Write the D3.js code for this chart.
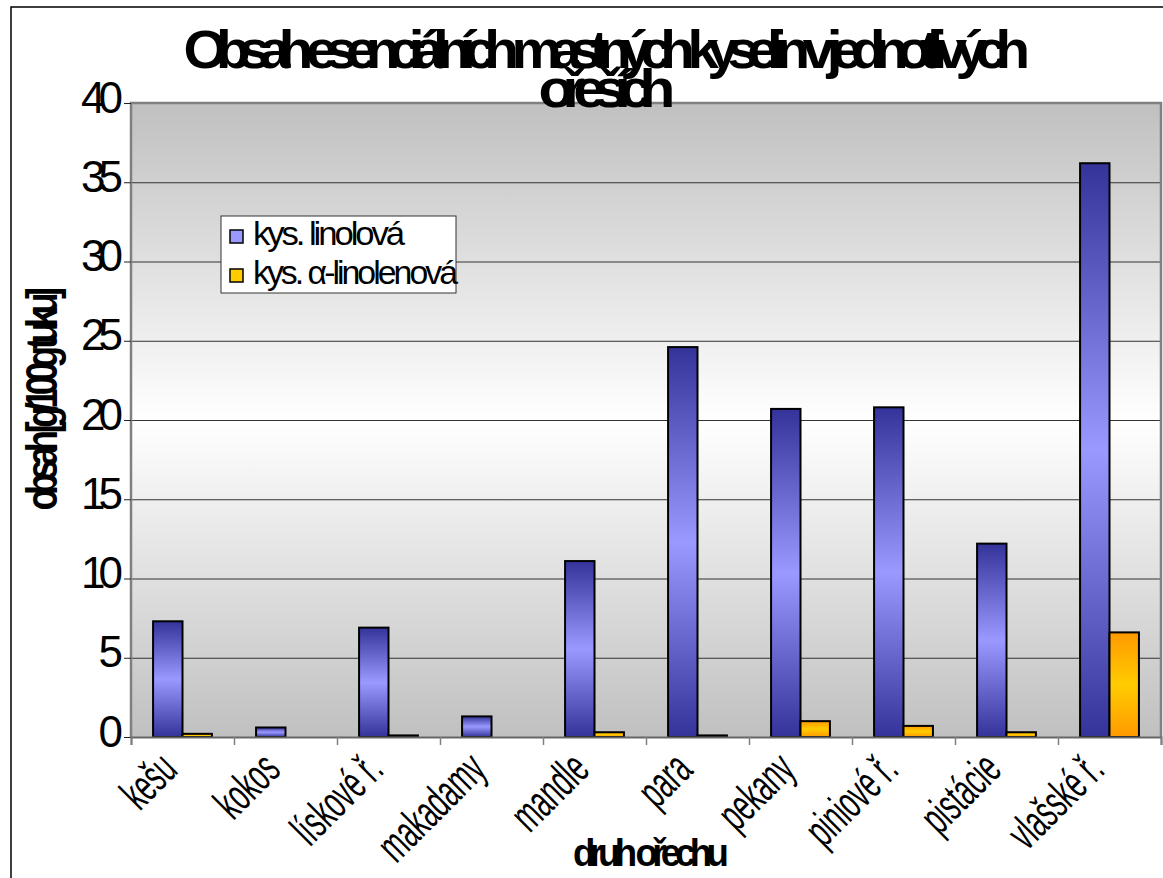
<!DOCTYPE html>
<html>
<head>
<meta charset="utf-8">
<script src="https://cdn.jsdelivr.net/npm/d3@7"></script>
<style>
  body { margin: 0; background: #fff; }
  text { font-family: "Liberation Sans", Arial, sans-serif; }
</style>
</head>
<body>
<script>
// rozměry
const width = 1163;
const height = 878;

// data
const categories = ["kešu", "kokos", "lískové ř.", "makadamy", "mandle", "para", "pekany", "piniové ř.", "pistácie", "vlašské ř."];
const seriesNames = ["kys. linolová", "kys. α-linolenová"];
const linolova = [7.3, 0.6, 6.9, 1.3, 11.1, 24.6, 20.7, 20.8, 12.2, 36.2];
const alfaLinolenova = [0.2, 0, 0.1, 0, 0.3, 0.1, 1.0, 0.7, 0.3, 6.6];
const yTicks = [0, 5, 10, 15, 20, 25, 30, 35, 40];
const titleLines = ["Obsah esenciálních mastných kyselin v jednotlivých", "ořeších"];
const yTitle = "obsah [g/100g tuku]";
const xTitle = "druh ořechu";

// plocha grafu
const plot = { left: 131, top: 103, right: 1161, bottom: 737 };
const plotWidth = plot.right - plot.left;
const plotHeight = plot.bottom - plot.top;

const svg = d3.select('body')
    .append('svg')
    .attr('width', width)
    .attr('height', height);

const defs = svg.append('defs');

function vGradient(id, stops) {
    const g = defs.append('linearGradient')
        .attr('id', id)
        .attr('x1', 0).attr('y1', 0)
        .attr('x2', 0).attr('y2', 1);
    stops.forEach(s => g.append('stop').attr('offset', s[0]).attr('stop-color', s[1]));
}
vGradient('bgGrad', [[0, '#c0c0c0'], [0.5, '#ffffff'], [1, '#c0c0c0']]);
vGradient('blueGrad', [[0, '#333399'], [0.5, '#9999ff'], [1, '#333399']]);
vGradient('orangeGrad', [[0, '#ff9900'], [0.5, '#ffcc00'], [1, '#ff9900']]);
const fills = ['url(#blueGrad)', 'url(#orangeGrad)'];
const swatchFills = ['#9999ff', '#ffcc00'];

// zúžení textu (písmo v originále je hodně stlačené)
function squeeze(sel, f) {
    sel.each(function () {
        const n = this.getComputedTextLength();
        d3.select(this)
            .attr('textLength', n * f)
            .attr('lengthAdjust', 'spacingAndGlyphs');
    });
}

// rámeček celého grafu
svg.append('rect')
    .attr('x', 11).attr('y', 7)
    .attr('width', width + 20).attr('height', height + 20)
    .attr('fill', 'none')
    .attr('stroke', '#000')
    .attr('stroke-width', 1.5);

// škály
const x0 = d3.scaleBand()
    .domain(categories)
    .range([0, plotWidth]);
const x1 = d3.scaleBand()
    .domain([0, 1])
    .range([0, x0.bandwidth()])
    .paddingInner(0)
    .paddingOuter(0.75);
const xIdx = d3.scaleLinear()
    .domain([0, categories.length])
    .range([0, plotWidth]);
const y = d3.scaleLinear()
    .domain([0, 40])
    .range([plotHeight, 0]);

const plotGroup = svg.append('g')
    .attr('transform', `translate(${plot.left},${plot.top})`);

// pozadí
plotGroup.append('rect')
    .attr('width', plotWidth)
    .attr('height', plotHeight)
    .attr('fill', 'url(#bgGrad)');

// mřížka
plotGroup.append('g')
    .call(d3.axisLeft(y).tickValues(yTicks.slice(1)).tickSize(-plotWidth).tickFormat(''))
    .call(g => g.select('.domain').remove())
    .call(g => g.selectAll('line').attr('stroke', '#333').attr('stroke-width', 1));

// okraj plochy
plotGroup.append('path')
    .attr('d', `M0,${plotHeight}V0H${plotWidth}V${plotHeight}`)
    .attr('fill', 'none')
    .attr('stroke', '#808080')
    .attr('stroke-width', 2.5);

// sloupce
const series = [linolova, alfaLinolenova];
const groups = plotGroup.append('g')
    .selectAll('g')
    .data(categories)
    .join('g')
    .attr('transform', d => `translate(${x0(d)},0)`);

groups.selectAll('rect')
    .data((c, i) => series.map((s, k) => ({ k: k, v: s[i] })).filter(d => d.v > 0))
    .join('rect')
    .attr('x', d => x1(d.k))
    .attr('width', x1.bandwidth())
    .attr('y', d => y(d.v))
    .attr('height', d => y(0) - y(d.v))
    .attr('fill', d => fills[d.k])
    .attr('stroke', '#000')
    .attr('stroke-width', 2);

// osa Y
plotGroup.append('g')
    .call(d3.axisLeft(y).tickValues(yTicks).tickSize(7).tickPadding(4))
    .call(g => g.select('.domain').remove())
    .call(g => g.selectAll('line').attr('stroke', '#222'))
    .call(g => g.selectAll('text')
        .attr('x', -15)
        .attr('dy', null)
        .attr('y', 9)
        .style('font-family', '"Liberation Sans", Arial, sans-serif')
        .style('font-size', '44px')
        .style('letter-spacing', '-7px')
        .attr('fill', '#000'));

// osa X - značky mezi kategoriemi
plotGroup.append('g')
    .attr('transform', `translate(0,${plotHeight})`)
    .call(d3.axisBottom(xIdx).tickValues(d3.range(categories.length + 1)).tickSize(8).tickFormat(''))
    .call(g => g.select('.domain').attr('stroke', '#666').attr('stroke-width', 2))
    .call(g => g.selectAll('line').attr('stroke', '#808080').attr('stroke-width', 1.5));

// popisky kategorií
plotGroup.append('g')
    .selectAll('text')
    .data(categories)
    .join('text')
    .attr('transform', d => `translate(${x0(d) + x0.bandwidth() / 2 - 3},${plotHeight + 35}) rotate(-45)`)
    .attr('text-anchor', 'end')
    .style('font-size', '46px')
    .text(d => d)
    .call(squeeze, 0.58);

// titulek
svg.append('g').selectAll('text')
    .data(titleLines)
    .join('text')
    .attr('x', 601)
    .attr('y', (d, i) => 68 + i * 39)
    .attr('text-anchor', 'middle')
    .style('font-weight', 'bold')
    .style('font-size', '54px')
    .style('letter-spacing', '-11px')
    .attr('textLength', (d, i) => i === 0 ? 835 : 125)
    .attr('lengthAdjust', 'spacingAndGlyphs')
    .text(d => d);

// názvy os
svg.append('text')
    .attr('transform', 'translate(57,402) rotate(-90)')
    .attr('text-anchor', 'middle')
    .style('font-weight', 'bold')
    .style('font-size', '44px')
    .style('letter-spacing', '-8px')
    .attr('textLength', 217)
    .attr('lengthAdjust', 'spacingAndGlyphs')
    .text(yTitle);

svg.append('text')
    .attr('x', 648)
    .attr('y', 866)
    .attr('text-anchor', 'middle')
    .style('font-weight', 'bold')
    .style('font-size', '38px')
    .style('letter-spacing', '-6px')
    .attr('textLength', 150)
    .attr('lengthAdjust', 'spacingAndGlyphs')
    .text(xTitle);

// legenda
const legend = svg.append('g')
    .attr('transform', 'translate(221,216)');
legend.append('rect')
    .attr('width', 235)
    .attr('height', 77)
    .attr('fill', '#fff')
    .attr('stroke', '#333')
    .attr('stroke-width', 1);
const legItems = legend.selectAll('g.item')
    .data(seriesNames)
    .join('g')
    .attr('class', 'item')
    .attr('transform', (d, i) => `translate(0,${i * 39})`);
legItems.append('rect')
    .attr('x', 9).attr('y', 14)
    .attr('width', 13).attr('height', 13)
    .attr('fill', (d, i) => swatchFills[i])
    .attr('stroke', '#000')
    .attr('stroke-width', 1.5);
legItems.append('text')
    .attr('x', 32)
    .attr('y', 29)
    .style('font-size', '34px')
    .style('letter-spacing', '-3px')
    .attr('textLength', (d, i) => i === 0 ? 149 : 202)
    .attr('lengthAdjust', 'spacingAndGlyphs')
    .text(d => d);
</script>
</body>
</html>
